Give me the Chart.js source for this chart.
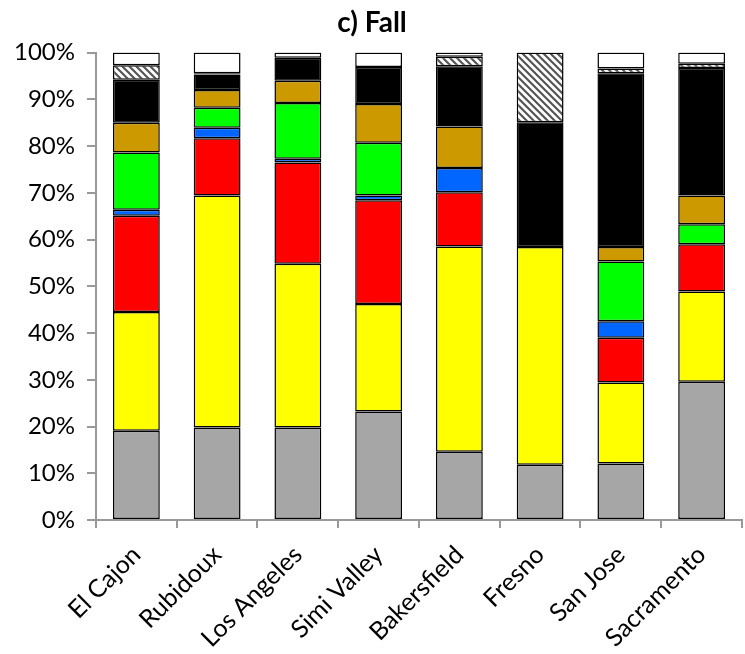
<!DOCTYPE html>
<html>
<head>
  <meta charset="UTF-8">
  <script src="https://cdn.jsdelivr.net/npm/chart.js@4.4.0/dist/chart.umd.min.js"></script>
  <style>
    body { margin: 0; background: #fff; }
    #wrap { width: 745px; height: 654px; }
  </style>
</head>
<body>
  <div id="wrap"><canvas id="myChart"></canvas></div>
  <script>
    // sites
    const sites = ['El Cajon', 'Rubidoux', 'Los Angeles', 'Simi Valley', 'Bakersfield', 'Fresno', 'San Jose', 'Sacramento'];
    // percent contributions, bottom to top
    const grayVals   = [19.1, 19.8, 19.8, 23.2, 14.6, 11.8, 12.1, 29.6];
    const yellowVals = [25.4, 49.6, 35.0, 23.0, 43.9, 46.6, 17.3, 19.3];
    const redVals    = [20.6, 12.3, 21.7, 22.2, 11.6, null, 9.6, 10.1];
    const blueVals   = [1.3, 2.2, 0.8, 1.0, 5.2, null, 3.5, null];
    const greenVals  = [12.2, 4.3, 11.9, 11.3, null, null, 12.8, 4.3];
    const goldVals   = [6.4, 3.8, 4.8, 8.3, 8.9, null, 3.1, 6.1];
    const blackVals  = [9.2, 3.3, 4.9, 7.9, 12.9, 26.7, 37.2, 27.3];
    const hatchVals  = [3.1, 0.3, null, null, 2.0, 14.9, 1.0, 0.9];
    const whiteVals  = [2.7, 4.4, 1.1, 3.1, 0.9, null, 3.4, 2.4];
    const yTicks = [0, 10, 20, 30, 40, 50, 60, 70, 80, 90, 100];

    // diagonal hatch fill
    function makeHatch() {
      let c = document.createElement('canvas');
      c.width = 7; c.height = 7;
      let g = c.getContext('2d');
      g.fillStyle = '#fff';
      g.fillRect(0, 0, 7, 7);
      g.strokeStyle = '#555';
      g.lineWidth = 2.2;
      g.beginPath();
      g.moveTo(-1, -1); g.lineTo(8, 8);
      g.moveTo(-1, 6); g.lineTo(1, 8);
      g.moveTo(6, -1); g.lineTo(8, 1);
      g.stroke();
      return g.createPattern(c, 'repeat');
    }

    function ds(label, data, color) {
      return {
        label: label,
        data: data,
        backgroundColor: color,
        borderColor: '#000',
        borderWidth: 1.5,
        borderSkipped: false,
        barPercentage: 0.58,
        categoryPercentage: 1.0
      };
    }

    let ctx = document.getElementById('myChart').getContext('2d');
    let chart = new Chart(ctx, {
      type: 'bar',
      data: {
        labels: sites,
        datasets: [
          ds('gray', grayVals, '#a6a6a6'),
          ds('yellow', yellowVals, '#ffff00'),
          ds('red', redVals, '#ff0000'),
          ds('blue', blueVals, '#0066ff'),
          ds('green', greenVals, '#00ff00'),
          ds('gold', goldVals, '#cc9900'),
          ds('black', blackVals, '#000000'),
          ds('hatch', hatchVals, makeHatch()),
          ds('white', whiteVals, '#ffffff')
        ]
      },
      options: {
        responsive: true,
        maintainAspectRatio: false,
        animation: false,
        layout: { padding: { left: 2, right: 3, top: 0, bottom: 0 } },
        plugins: {
          legend: { display: false },
          tooltip: { enabled: false },
          title: {
            display: true,
            text: 'c) Fall',
            color: '#000',
            font: { family: 'Lato', size: 28, weight: 'bold' },
            padding: { top: 6, bottom: 13 }
          }
        },
        scales: {
          x: {
            stacked: true,
            afterFit: function(scale) { scale.height = 134; },
            border: { color: '#999', width: 2 },
            grid: { drawOnChartArea: false, color: '#999', lineWidth: 2, tickLength: 8 },
            ticks: {
              color: '#000',
              font: { family: 'Lato', size: 25 },
              maxRotation: 45,
              minRotation: 45,
              padding: 12
            }
          },
          y: {
            stacked: true,
            min: 0,
            max: 100,
            afterBuildTicks: function(axis) {
              axis.ticks = yTicks.map(function(v) { return { value: v }; });
            },
            border: { color: '#999', width: 2 },
            grid: { drawOnChartArea: false, color: '#999', lineWidth: 2, tickLength: 9 },
            ticks: {
              color: '#000',
              font: { family: 'Lato', size: 24 },
              padding: 12,
              callback: function(v) { return v + '%'; }
            }
          }
        }
      }
    });
  </script>
</body>
</html>
